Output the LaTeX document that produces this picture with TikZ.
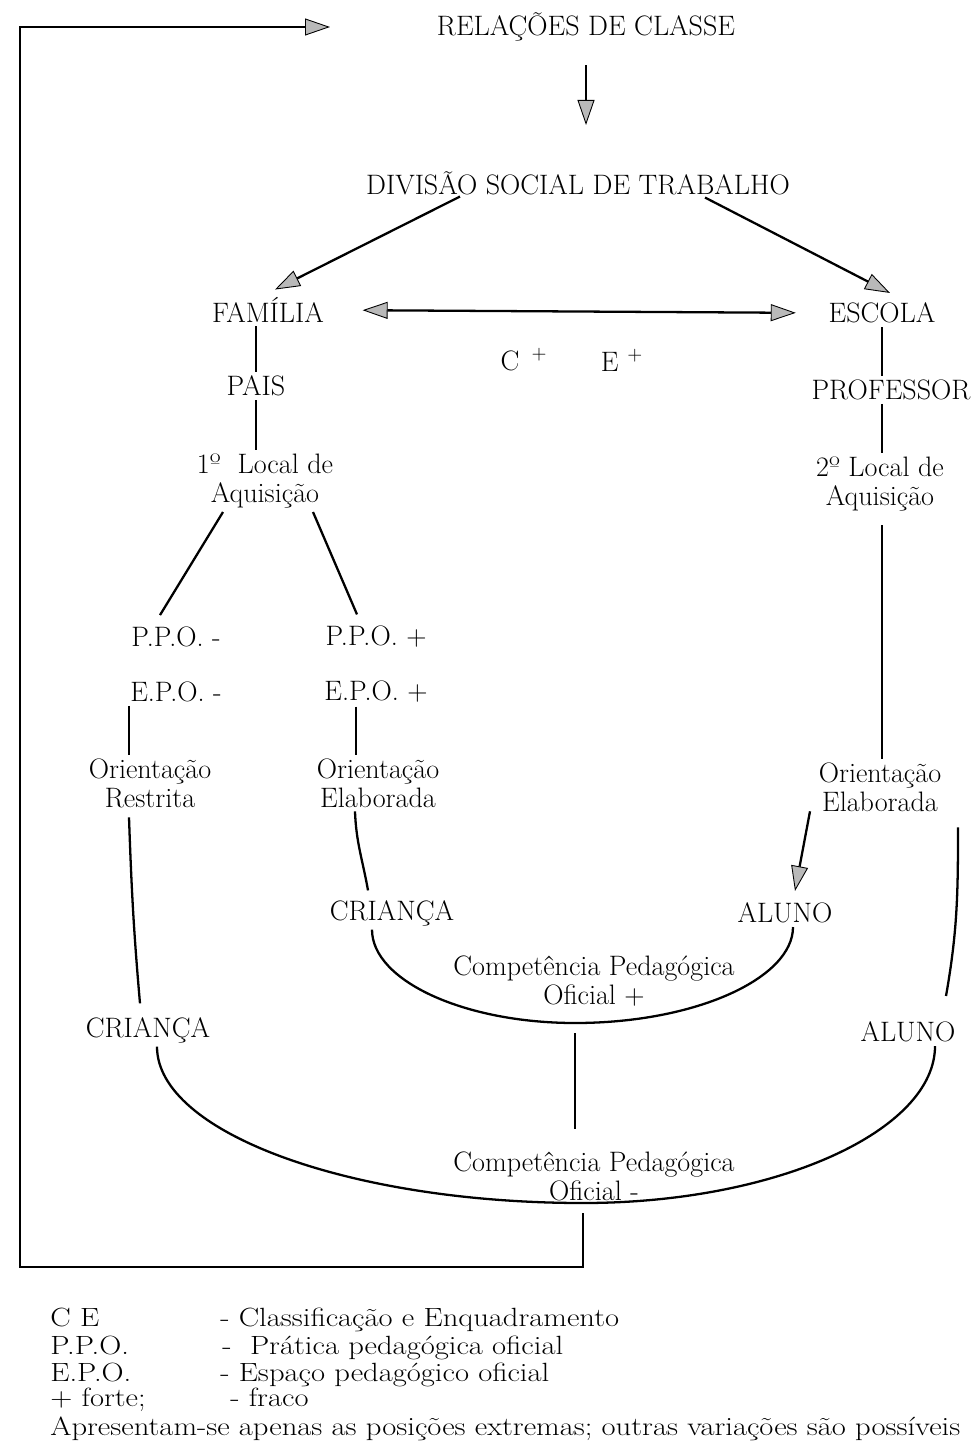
\documentclass[tikz,border=0pt]{standalone}
\usepackage{fontspec}
\usepackage{tikz}
\usetikzlibrary{arrows.meta,calc,positioning}
\newcommand{\legwide}[1]{\scalebox{1.16}[1]{#1}}

\begin{document}
\begin{tikzpicture}[
  x=0.2mm,y=-0.2mm,
  >={Triangle[length=5mm,width=3.4mm,fill=gray!55,line width=0.5pt]},
  lbl/.style={inner sep=2pt,align=center,font=\fontsize{16}{16.5}\selectfont},
  legend/.style={anchor=base west,inner sep=0pt,font=\fontsize{15}{16}\selectfont},
  link/.style={line width=1.3pt},
  flow/.style={->,line width=1.3pt},
]
\useasboundingbox (0,0) rectangle (975,1441);

% === top of the diagram ===
\node[lbl] (rel) at (586,27) {RELAÇÕES DE CLASSE};
\node[lbl] (div) at (578,183) {DIVISÃO SOCIAL DE TRABALHO};
\node[lbl] (fam) at (268,310) {FAMÍLIA};
\node[lbl] (esc) at (882,313) {ESCOLA};
\node[lbl] (cplus) at (524,360) {C\hspace{7pt}$^{+}$};
\node[lbl] (eplus) at (622,360) {E\hspace{5pt}$^{+}$};

\draw[flow,shorten <=4mm,shorten >=8.5mm] (rel.south) -- (rel.south |- div.north);
\draw[flow] ($(div.south)+(-118,-2)$) -- ($(fam.north)+(7,-4)$);
\draw[flow] ($(div.south)+(127,-1)$) -- ($(esc.north)+(8,-6)$);
\draw[<->,line width=1.3pt,shorten <=7mm,shorten >=5.8mm] (fam.east) -- (esc.west);

% === left branch: family ===
\node[lbl] (pais) at (256,386) {PAIS};
\node[lbl] (loc1) at (265,481) {1º\ \ Local de\\Aquisição};
\node[lbl] (ppom) at (176,637) {P.P.O. -};
\node[lbl] (ppop) at (376,637) {P.P.O. +};
\node[lbl] (epom) at (176,692) {E.P.O. -};
\node[lbl] (epop) at (376,692) {E.P.O. +};
\node[lbl] (orr) at (150,783) {Orientação\\Restrita};
\node[lbl] (ore1) at (378,783) {Orientação\\Elaborada};

\draw[link] (pais.north |- fam.south) -- (pais.north);
\draw[link] (pais.south) -- (pais.south |- loc1.north);
\draw[link] ($(loc1.south)+(-42,0)$) -- ($(ppom.north)+(-16,-8)$);
\draw[link] ($(loc1.south)+(48,0)$) -- ($(ppop.north)+(-19,-8)$);
\draw[link] ($(epom.south)+(-47,0)$) -- ($(orr.north)+(-21,0)$);
\draw[link] ($(epop.south)+(-20,0)$) -- ($(ore1.north)+(-22,0)$);

% === right branch: school ===
\node[lbl] (prof) at (891,390) {PROFESSOR};
\node[lbl] (loc2) at (880,484) {2º\ Local de\\Aquisição};
\node[lbl] (ore2) at (880,787) {Orientação\\Elaborada};

\draw[link] (esc.south) -- (esc.south |- prof.north);
\draw[link] (esc.south |- prof.south) -- (esc.south |- loc2.north);
\draw[link,shorten <=2mm] (esc.south |- loc2.south) -- (esc.south |- ore2.north);

% === children and pupils ===
\node[lbl] (cri1) at (392,913) {CRIANÇA};
\node[lbl] (alu1) at (785,913) {ALUNO};
\node[lbl] (cpo1) at (594,981) {Competência Pedagógica\\Oficial +};
\node[lbl] (cri2) at (148,1030) {CRIANÇA};
\node[lbl] (alu2) at (908,1032) {ALUNO};
\node[lbl] (cpo2) at (594,1176) {Competência Pedagógica\\Oficial -};
\coordinate (b1) at (575,1023);
\coordinate (b2) at (583,1203);

\draw[link] ($(ore1.south)+(-23,0)$) to[out=-88,in=100] ($(cri1.north)+(-24,-6)$);
\draw[link] ($(orr.south)+(-21,6)$) to[out=-88,in=95] ($(cri2.north)+(-8,-10)$);
\draw[flow] ($(ore2.south)+(-70,-4)$) -- ($(alu1.north)+(10,-8)$);
\draw[link] ($(ore2.south)+(78,12)$) to[out=-90,in=80] ($(alu2.north)+(38,-22)$);

\draw[link] ($(cri1.south)+(-20,0)$) .. controls +(0,51) and +(-111,0) .. (b1)
  .. controls +(121,0) and +(0,51) .. ($(alu1.south)+(8,0)$);
\draw[link] ($(cri2.south)+(9,0)$) .. controls +(0,86) and +(-233,0) .. (b2)
  .. controls +(195,0) and +(0,84) .. ($(alu2.south)+(27,0)$);
\draw[link,shorten <=2mm,shorten >=3.8mm] (b1) -- (b1 |- cpo2.north);

% === feedback to class relations ===
\coordinate (fbcorner) at (20,1267);
\coordinate (fbtip) at (330,27);
\draw[flow,shorten <=2mm] (b2) |- (fbcorner) |- (fbtip);

% === legend ===
\node[legend] (k1) at (50,1326) {\legwide{C E}};
\node[legend] (v1) at (220,1326) {\legwide{- Classificação e Enquadramento}};
\node[legend] (k2) at (50,1354) {\legwide{P.P.O.}};
\node[legend] (v2) at (222,1354) {\legwide{-\ \ Prática pedagógica oficial}};
\node[legend] (k3) at (50,1381) {\legwide{E.P.O.}};
\node[legend] (v3) at (220,1381) {\legwide{- Espaço pedagógico oficial}};
\node[legend] (k4) at (50,1406) {\legwide{+ forte;}};
\node[legend] (v4) at (230,1406) {\legwide{- fraco}};
\node[legend] (note) at (50,1435) {\legwide{Apresentam-se apenas as posições extremas; outras variações são possíveis}};

\end{tikzpicture}
\end{document}
